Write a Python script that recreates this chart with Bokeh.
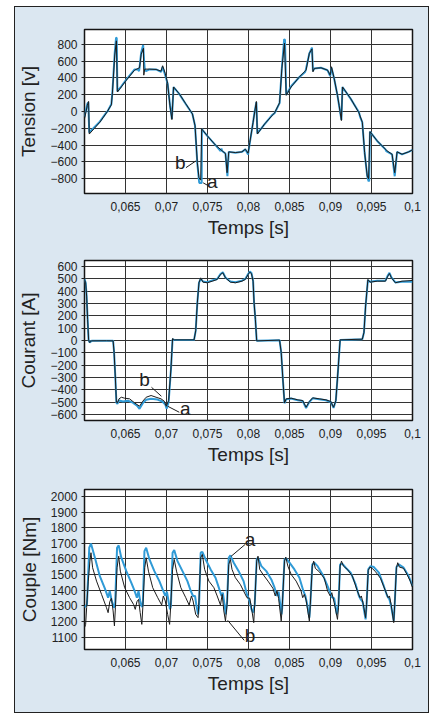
from bokeh.plotting import figure
from bokeh.layouts import column
from bokeh.models import Range1d, FixedTicker, Label
from bokeh.embed import file_html
from bokeh.resources import INLINE

# ---------------- data ----------------
time_ticks = [65, 70, 75, 80, 85, 90, 95, 100]          # ms
time_labels = ["0,065", "0,07", "0,075", "0,08", "0,085", "0,09", "0,095", "0,1"]

tension_ticks = [-800, -600, -400, -200, 0, 200, 400, 600, 800]
tension_labels = ["\u2212800", "\u2212600", "\u2212400", "\u2212200", "0", "200", "400", "600", "800"]
courant_ticks = [-600, -500, -400, -300, -200, -100, 0, 100, 200, 300, 400, 500, 600]
courant_labels = ["\u2212600", "\u2212500", "\u2212400", "\u2212300", "\u2212200", "\u2212100",
                  "0", "100", "200", "300", "400", "500", "600"]
couple_ticks = [1100, 1200, 1300, 1400, 1500, 1600, 1700, 1800, 1900, 2000]
couple_labels = ["1100", "1200", "1300", "1400", "1500", "1600", "1700", "1800", "1900", "2000"]

# Tension [V] vs time [ms] -- curve b (black) and a (blue)
tension_b = [(60.0, -88), (60.34, 72), (60.50, 120), (60.58, -268), (61.87, -128), (62.68, -16),
             (63.28, 80), (63.41, 232), (63.69, 672), (63.89, 840), (64.01, 232), (64.49, 292),
             (65.10, 372), (66.11, 492), (66.71, 520), (66.91, 680), (67.19, 752), (67.23, 432),
             (67.35, 504), (67.92, 504), (68.73, 500), (69.33, 480), (69.53, 544), (69.85, 452),
             (70.14, 332), (70.42, 72), (70.66, -96), (70.86, 292), (71.55, 212), (72.35, 92),
             (73.16, -28), (73.48, -168), (73.76, -608), (73.96, -788), (74.17, -816), (74.29, -208),
             (74.97, -288), (75.98, -400), (76.79, -468), (77.19, -500), (77.39, -728), (77.59, -480),
             (78.40, -488), (79.20, -480), (79.61, -448), (79.95, -496), (80.16, -368), (80.56, -128),
             (80.96, 120), (81.08, -268), (81.97, -148), (83.18, -16), (83.79, 104), (84.07, 512),
             (84.39, 812), (84.60, 192), (85.20, 292), (86.21, 412), (87.02, 492), (87.42, 692),
             (87.74, 744), (87.86, 472), (88.03, 512), (88.83, 520), (89.64, 492), (89.96, 432),
             (90.12, 532), (90.45, 392), (90.85, 192), (91.05, 72), (91.33, -108), (91.46, 292),
             (92.47, 152), (93.47, -16), (93.88, -128), (94.16, -488), (94.48, -768), (94.64, -800),
             (94.81, -240), (95.69, -348), (96.90, -468), (97.51, -508), (97.83, -728), (98.12, -480),
             (98.72, -508), (99.53, -480), (100.0, -456)]
tension_a = [(60.0, -60), (60.34, 90), (60.46, 110), (60.58, -250), (61.87, -120), (62.68, -10),
             (62.8, 0), (63.28, 90), (63.41, 240), (63.69, 700), (63.85, 880), (63.93, 870),
             (64.01, 240), (64.49, 300), (65.10, 380), (66.11, 500), (66.5, 500), (66.65, 480),
             (66.71, 520), (66.91, 700), (67.15, 790), (67.27, 600), (67.35, 500), (67.5, 480),
             (67.92, 500), (68.73, 500), (69.33, 470), (69.53, 530), (69.85, 430), (70.14, 330),
             (70.42, 80), (70.66, -90), (70.86, 290), (71.55, 210), (72.35, 90), (73.16, -30),
             (73.48, -170), (73.76, -620), (73.96, -820), (74.0, -850), (74.29, -850), (74.31, -210),
             (74.97, -290), (75.98, -400), (76.6, -470), (76.7, -440), (76.79, -470), (77.19, -500),
             (77.43, -770), (77.59, -480), (78.40, -490), (79.20, -480), (79.61, -450), (79.95, -510),
             (80.16, -370), (80.56, -130), (80.7, -30), (80.96, 110), (81.08, -260), (81.97, -150),
             (82.9, -40), (83.18, -20), (83.79, 100), (84.07, 520), (84.35, 860), (84.45, 850),
             (84.60, 200), (85.20, 300), (86.21, 410), (86.9, 470), (87.0, 500), (87.42, 690),
             (87.74, 760), (87.86, 480), (88.03, 510), (88.83, 520), (89.64, 490), (89.96, 420),
             (90.12, 520), (90.45, 390), (90.85, 190), (91.05, 70), (91.33, -100), (91.46, 290),
             (92.47, 150), (93.47, -10), (93.6, -60), (93.88, -130), (94.16, -490), (94.48, -770),
             (94.64, -830), (94.72, -820), (94.81, -240), (95.69, -350), (96.7, -450), (96.8, -470),
             (97.51, -510), (97.83, -770), (98.12, -480), (98.72, -510), (99.53, -480), (100.0, -456)]

# Courant [A]
courant_b = [(60.0, 496), (60.14, 469), (60.26, 361), (60.38, 172), (60.50, 5), (60.62, -16),
             (60.87, -3), (62.68, -2), (63.49, -3), (63.61, -97), (63.77, -313), (63.89, -501),
             (64.01, -507), (64.21, -474), (64.49, -461), (64.90, -469), (65.50, -474), (66.11, -507),
             (66.71, -534), (67.11, -493), (67.52, -461), (68.12, -447), (68.73, -461), (69.33, -474),
             (69.73, -493), (69.97, -534), (70.26, -488), (70.54, -232), (70.74, 16), (70.94, 5),
             (73.36, 5), (73.56, 78), (73.76, 307), (73.96, 469), (74.17, 509), (74.45, 474),
             (74.97, 469), (75.58, 482), (76.18, 496), (76.58, 536), (76.87, 550), (77.19, 509),
             (77.79, 474), (78.40, 469), (79.20, 482), (79.61, 496), (79.95, 536), (80.16, 555),
             (80.36, 544), (80.56, 482), (80.68, 307), (80.84, 172), (81.0, -3), (83.79, 3),
             (83.99, -97), (84.19, -313), (84.39, -507), (84.6, -474), (85.2, -469), (86.01, -482),
             (86.61, -488), (87.02, -542), (87.42, -496), (87.82, -466), (88.63, -474), (89.44, -482),
             (90.04, -496), (90.37, -542), (90.65, -488), (90.93, -232), (91.17, 5), (93.88, 11),
             (94.08, 65), (94.28, 280), (94.56, 496), (94.81, 474), (95.69, 482), (96.70, 482),
             (96.99, 523), (97.19, 544), (97.43, 509), (97.91, 469), (98.72, 482), (100.0, 488)]
courant_a = [(60.0, 500), (60.14, 470), (60.26, 360), (60.38, 170), (60.50, 5), (60.62, -16),
             (60.87, -3), (63.49, -3), (63.61, -97), (63.77, -313), (63.89, -505), (64.01, -515),
             (64.21, -488), (64.7, -496), (65.3, -490), (65.9, -505), (66.4, -530), (66.71, -555),
             (67.11, -509), (67.52, -482), (68.12, -474), (68.9, -480), (69.5, -496), (69.85, -520),
             (70.02, -555), (70.26, -500), (70.54, -240), (70.74, 10), (70.94, 5), (73.36, 5),
             (73.56, 78), (73.76, 307), (73.96, 469), (74.17, 500), (74.45, 480), (74.97, 474),
             (75.58, 488), (76.18, 500), (76.58, 540), (76.87, 555), (77.19, 512), (77.79, 480),
             (78.40, 474), (79.20, 486), (79.61, 500), (79.95, 540), (80.16, 560), (80.36, 548),
             (80.56, 485), (80.68, 307), (80.84, 172), (81.0, -3), (83.79, 3), (83.99, -97),
             (84.19, -313), (84.39, -510), (84.6, -478), (85.2, -472), (86.01, -485), (86.61, -492),
             (87.02, -548), (87.42, -500), (87.82, -470), (88.63, -478), (89.44, -486), (90.04, -500),
             (90.37, -548), (90.65, -490), (90.93, -232), (91.17, 5), (93.88, 11), (94.08, 65),
             (94.28, 280), (94.56, 490), (94.81, 478), (95.69, 486), (96.70, 486), (96.99, 528),
             (97.19, 550), (97.43, 512), (97.91, 472), (98.72, 478), (100.0, 478)]

# Couple [Nm]
couple_b = [(60.0, 1160), (60.14, 1181), (60.26, 1288), (60.46, 1458), (60.66, 1586), (60.79, 1640),
            (60.99, 1544), (61.47, 1458), (62.08, 1373), (62.68, 1288), (62.88, 1256), (63.08, 1326),
            (63.28, 1348), (63.49, 1267), (63.65, 1171),
            (63.77, 1288), (63.97, 1544), (64.17, 1618), (64.37, 1522), (64.90, 1416), (65.50, 1352),
            (65.98, 1309), (66.19, 1277), (66.39, 1326), (66.59, 1341), (66.79, 1256), (66.99, 1181),
            (67.11, 1288), (67.35, 1544), (67.52, 1608), (67.80, 1522), (68.32, 1416), (68.93, 1352),
            (69.41, 1305), (69.61, 1363), (69.85, 1331), (70.14, 1245), (70.38, 1181),
            (70.50, 1288), (70.74, 1533), (70.94, 1597), (71.22, 1522), (71.75, 1416), (72.35, 1352),
            (72.76, 1305), (73.04, 1363), (73.24, 1331), (73.56, 1245), (73.85, 1224),
            (73.96, 1331), (74.17, 1608), (74.37, 1629), (74.65, 1533), (75.17, 1458), (75.78, 1416),
            (76.18, 1363), (76.58, 1305), (76.79, 1373), (76.99, 1267), (77.19, 1203),
            (77.39, 1309), (77.59, 1565), (77.79, 1597), (77.99, 1533), (78.40, 1480), (79.00, 1437),
            (79.40, 1395), (79.81, 1352), (80.16, 1348), (80.36, 1288), (80.64, 1192),
            (80.76, 1309), (81.0, 1586), (81.16, 1618), (81.37, 1533), (81.77, 1501), (82.38, 1458),
            (82.98, 1412), (83.26, 1363), (83.47, 1395), (83.67, 1348), (83.99, 1203),
            (84.11, 1288), (84.39, 1586), (84.55, 1612), (84.80, 1554), (85.20, 1501), (85.81, 1458),
            (86.41, 1395), (86.61, 1352), (86.81, 1373), (87.02, 1337), (87.42, 1203),
            (87.54, 1309), (87.78, 1554), (87.95, 1586), (88.15, 1540), (88.63, 1518), (89.24, 1476),
            (89.64, 1395), (89.96, 1363), (90.16, 1384), (90.45, 1320), (90.85, 1213),
            (90.97, 1288), (91.17, 1554), (91.34, 1586), (91.58, 1554), (92.06, 1533), (92.67, 1490),
            (93.27, 1395), (93.60, 1352), (93.76, 1363), (94.0, 1309), (94.28, 1224),
            (94.40, 1309), (94.60, 1527), (94.81, 1548), (95.09, 1540), (95.49, 1518), (96.10, 1476),
            (96.70, 1395), (97.03, 1352), (97.19, 1363), (97.39, 1309), (97.71, 1192),
            (97.83, 1309), (98.04, 1544), (98.20, 1576), (98.40, 1548), (98.92, 1540), (99.33, 1501),
            (99.73, 1458), (100.0, 1416)]
couple_a = [(60.0, 1290), (60.30, 1309), (60.58, 1672), (60.79, 1699), (61.27, 1608), (61.87, 1490),
            (62.48, 1412), (62.88, 1352), (63.08, 1395), (63.32, 1331), (63.61, 1288),
            (63.73, 1299), (63.97, 1672), (64.17, 1687), (64.49, 1608), (65.10, 1522), (65.70, 1448),
            (66.11, 1395), (66.39, 1352), (66.59, 1395), (66.79, 1331), (66.99, 1292),
            (67.11, 1305), (67.31, 1650), (67.52, 1672), (67.92, 1597), (68.52, 1522), (69.13, 1458),
            (69.53, 1405), (69.85, 1363), (70.05, 1390), (70.26, 1326), (70.42, 1277),
            (70.54, 1299), (70.74, 1640), (70.94, 1657), (71.34, 1586), (71.95, 1522), (72.55, 1458),
            (72.96, 1395), (73.24, 1363), (73.48, 1363), (73.64, 1305), (73.85, 1245),
            (73.96, 1288), (74.17, 1640), (74.37, 1646), (74.77, 1597), (75.38, 1533), (75.98, 1480),
            (76.38, 1416), (76.71, 1363), (76.87, 1384), (77.07, 1309), (77.23, 1245),
            (77.39, 1326), (77.59, 1608), (77.79, 1623), (78.20, 1576), (78.80, 1522), (79.40, 1458),
            (79.81, 1373), (80.16, 1326), (80.36, 1277), (80.56, 1256),
            (80.76, 1309), (81.0, 1597), (81.16, 1608), (81.57, 1554), (82.17, 1522), (82.78, 1469),
            (83.18, 1416), (83.47, 1363), (83.67, 1390), (83.87, 1309), (84.03, 1245),
            (84.11, 1288), (84.39, 1597), (84.6, 1603), (85.0, 1576), (85.6, 1533), (86.21, 1480),
            (86.69, 1395), (86.94, 1363), (87.14, 1314), (87.42, 1224),
            (87.54, 1309), (87.78, 1565), (88.03, 1576), (88.43, 1554), (89.03, 1501), (89.56, 1437),
            (89.96, 1384), (90.16, 1356), (90.45, 1348), (90.77, 1245),
            (90.97, 1309), (91.17, 1565), (91.46, 1569), (91.86, 1544), (92.46, 1512), (93.07, 1437),
            (93.47, 1363), (93.68, 1341), (93.92, 1326), (94.28, 1213),
            (94.40, 1309), (94.60, 1533), (94.89, 1554), (95.29, 1548), (95.90, 1512), (96.50, 1427),
            (96.91, 1363), (97.19, 1341), (97.39, 1299), (97.71, 1203),
            (97.83, 1309), (98.04, 1548), (98.32, 1565), (98.92, 1544), (99.53, 1490), (100.0, 1427)]

# curve tags "a"/"b": (text, x, y, leader x0, y0, x1, y1) in data units
tension_tags = [("b", 71.68, -608, 72.37, -668, 73.58, -588),
                ("a", 75.59, -828, 74.47, -848, 75.2, -888)]
courant_tags = [("b", 67.32, -313, 68.17, -380, 69.38, -453),
                ("a", 72.29, -556, 70.14, -534, 71.56, -583)]
couple_tags = [("a", 80.19, 1723, 79.59, 1693, 77.86, 1616),
               ("b", 80.19, 1111, 79.47, 1079, 77.46, 1207)]

# ---------------- style ----------------
BG = "#dbe7f1"
BLUE = "#2f9ad6"
BLACK = "#1c1c1c"
GRID = "#333333"
FONT = "Liberation Sans"


def make_fig(h, top, bottom, yr, yticks, ylabels, ylabel, series_a, series_b, tags):
    p = figure(width=413, height=h, x_range=Range1d(60, 100), y_range=Range1d(*yr),
               output_backend="svg", toolbar_location=None,
               min_border_left=68, min_border_right=16,
               min_border_top=top, min_border_bottom=bottom)
    p.border_fill_color = BG
    p.background_fill_color = "white"
    p.outline_line_color = "#151515"
    p.outline_line_width = 1.5

    p.xaxis.ticker = FixedTicker(ticks=time_ticks)
    p.xaxis.major_label_overrides = dict(zip(time_ticks, time_labels))
    p.yaxis.ticker = FixedTicker(ticks=yticks)
    p.yaxis.major_label_overrides = dict(zip(yticks, ylabels))
    p.xgrid.ticker = FixedTicker(ticks=time_ticks)
    p.ygrid.ticker = FixedTicker(ticks=yticks)
    for g in (p.xgrid, p.ygrid):
        g.grid_line_color = GRID
        g.grid_line_width = 1

    for ax in (p.xaxis, p.yaxis):
        ax.axis_line_color = None
        ax.minor_tick_line_color = None
        ax.major_tick_in = 0
        ax.major_tick_line_color = "#222222"
        ax.major_label_text_font = FONT
        ax.major_label_text_font_size = "12px"
        ax.major_label_text_color = "#222222"
        ax.axis_label_text_font = FONT
        ax.axis_label_text_font_size = "19px"
        ax.axis_label_text_font_style = "normal"
        ax.axis_label_text_color = "#222222"
    p.xaxis.major_tick_out = 0
    p.xaxis.major_label_standoff = 8
    p.xaxis.axis_label_standoff = 3
    p.xaxis.axis_label = "Temps [s]"
    p.yaxis.major_tick_out = 3
    p.yaxis.major_label_standoff = 4
    p.yaxis.axis_label_standoff = 8
    p.yaxis.axis_label = ylabel

    ta, va = zip(*series_a)
    tb, vb = zip(*series_b)
    p.line(list(ta), list(va), color=BLUE, line_width=2)
    p.line(list(tb), list(vb), color=BLACK, line_width=1)

    for txt, x, y, x0, y0, x1, y1 in tags:
        p.segment(x0=[x0], y0=[y0], x1=[x1], y1=[y1], color=BLACK, line_width=1)
        p.add_layout(Label(x=x, y=y, text=txt, text_align="center", text_baseline="middle",
                           text_font=FONT, text_font_size="19px", text_color="#222222"))
    return p


p1 = make_fig(235, 22, 49, (-975, 975), tension_ticks, tension_labels, "Tension [v]",
              tension_a, tension_b, tension_tags)
p2 = make_fig(230, 18, 52, (-650, 650), courant_ticks, courant_labels, "Courant [A]",
              courant_a, courant_b, courant_tags)
p3 = make_fig(240, 17, 63, (1020, 2045), couple_ticks, couple_labels, "Couple [Nm]",
              couple_a, couple_b, couple_tags)

layout = column(p1, p2, p3, spacing=0, margin=(6, 0, 0, 14),
                styles={"border": "1px solid #222222", "background-color": BG})

open("out.html", "w").write(file_html(layout, INLINE))
